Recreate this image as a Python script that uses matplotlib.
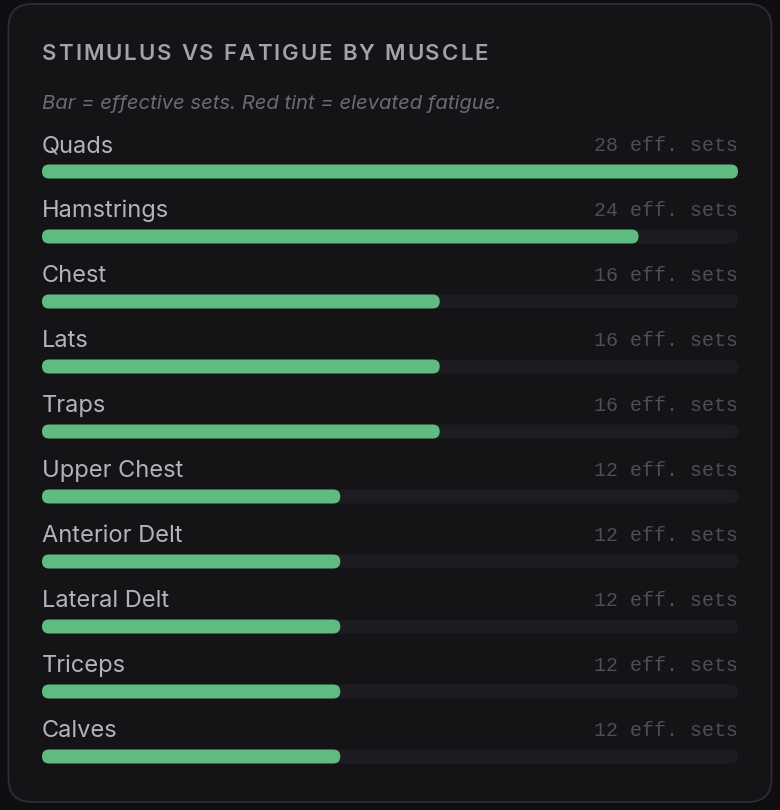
import matplotlib
matplotlib.use("Agg")
import matplotlib.pyplot as plt
from matplotlib.patches import FancyBboxPatch
import numpy as np

# data
muscles = ["Quads", "Hamstrings", "Chest", "Lats", "Traps", "Upper Chest",
           "Anterior Delt", "Lateral Delt", "Triceps", "Calves"]
eff_sets = [28, 24, 16, 16, 16, 12, 12, 12, 12, 12]
max_sets = 28

title = "STIMULUS VS FATIGUE BY MUSCLE"
subtitle = "Bar = effective sets. Red tint = elevated fatigue."

W, H = 780, 810
BG = "#0e0e10"
CARD = "#141416"
EDGE = "#2e2d33"
TRACK = "#1d1c21"
GREEN = "#5fbb80"

fig = plt.figure(figsize=(W / 100, H / 100), dpi=100)
fig.patch.set_facecolor(BG)

def fx(px):
    return px / W

def fy(py):
    return 1 - py / H

# card
card = FancyBboxPatch((fx(8.5), fy(802)), fx(763), 798 / H,
                      boxstyle="round,pad=0,rounding_size=0.03",
                      mutation_aspect=W / H,
                      transform=fig.transFigure, facecolor=CARD,
                      edgecolor=EDGE, linewidth=1.3, zorder=-5)
fig.patches.append(card)

# title with letter spacing
renderer = fig.canvas.get_renderer()
x = 42
for ch in title:
    t = fig.text(fx(x), fy(60), ch, fontsize=16, fontweight="semibold",
                 family="Inter", color="#a3a2ab", va="baseline")
    w = t.get_window_extent(renderer).width
    if ch == " ":
        w = 16 * 100 / 72 * 0.28
    x += w + 1.95

fig.text(fx(42), fy(109), subtitle, fontsize=14.6, style="italic",
         family="Inter", color="#6b6a75", va="baseline")

# bars axis: rows 65 px apart, first bar center at y=171.5
top = 171.5 - 32.5
bottom = 171.5 + 9 * 65 + 32.5
ax = fig.add_axes([fx(42), fy(bottom), fx(696), (bottom - top) / H])
ax.set_xlim(0, max_sets)
ax.set_ylim(len(muscles) - 0.5, -0.5)
ax.axis("off")

ypos = np.arange(len(muscles))
bar_h = 14 / 65

# x data per px / y data per px
xpp = max_sets / 696
ypp = 1 / 65
asp = ypp / xpp

def rounded(container, color):
    for b in container:
        bx, by = b.get_x(), b.get_y()
        bw, bh = b.get_width(), b.get_height()
        b.set_visible(False)
        p = FancyBboxPatch((bx, by), bw, bh,
                           boxstyle="round,pad=0,rounding_size=%f" % (7 * xpp),
                           mutation_aspect=asp, facecolor=color,
                           edgecolor="none")
        ax.add_patch(p)

tracks = ax.barh(ypos, [max_sets] * len(muscles), height=bar_h)
rounded(tracks, TRACK)
bars = ax.barh(ypos, eff_sets, height=bar_h)
rounded(bars, GREEN)

for i, (m, v) in enumerate(zip(muscles, eff_sets)):
    ax.text(0, i - 19.5 / 65, m, fontsize=17, family="Inter",
            color="#b4b3bb", va="baseline", ha="left")
    ax.text(max_sets, i - 20.5 / 65, "%d eff. sets" % v, fontsize=14.4,
            family="Liberation Mono", color="#4f4e56", va="baseline",
            ha="right")

fig.savefig("out.png", dpi=100, facecolor=BG)
